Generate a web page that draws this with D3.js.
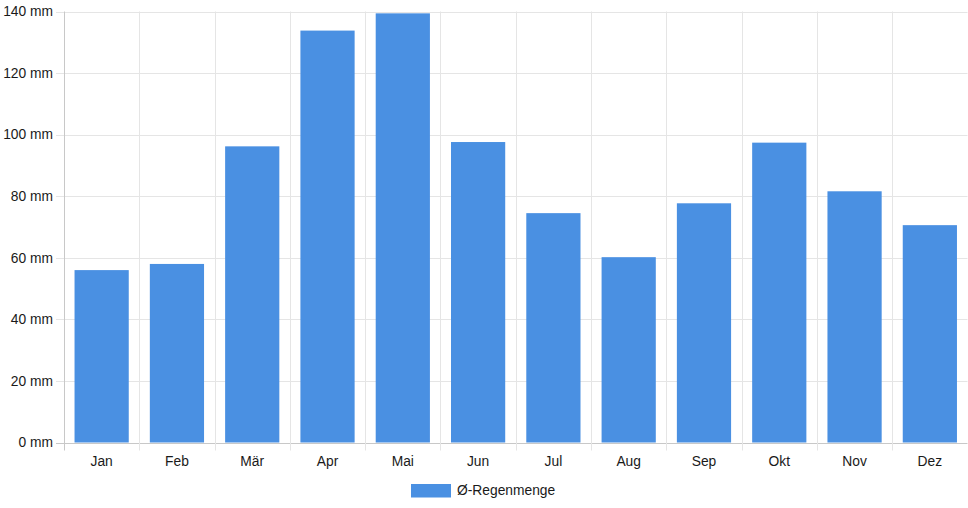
<!DOCTYPE html>
<html><head><meta charset="utf-8">
<script src="https://cdn.jsdelivr.net/npm/d3@7"></script>
<style>body{margin:0;background:#fff}svg{display:block;font-family:"Liberation Sans",Arial,sans-serif}</style>
</head><body><svg id="c" width="968" height="508"></svg>
<script>
const months = ["Jan","Feb","Mär","Apr","Mai","Jun","Jul","Aug","Sep","Okt","Nov","Dez"];
const rain = [56, 58, 96.2, 133.8, 139.4, 97.6, 74.5, 60.2, 77.7, 97.4, 81.6, 70.6];
const yTicks = [0, 20, 40, 60, 80, 100, 120, 140];
const seriesName = "Ø-Regenmenge";

(function () {
const svg = d3.select("#c");
const pL = 64, pR = 967.5, pT = 11.5, pB = 442.5;
const fs = 13.8;
const x = d3.scaleBand().domain(months).range([pL, pR]).paddingInner(0).paddingOuter(0);
const y = d3.scaleLinear().domain([0, 140]).range([pB, pT]);
const grid = "#e5e5e5";

svg.append("g").selectAll("line").data(yTicks).join("line")
  .attr("x1", pL - 8).attr("x2", pR)
  .attr("y1", d => Math.round(y(d)) + 0.5).attr("y2", d => Math.round(y(d)) + 0.5)
  .attr("stroke", d => d === 0 ? "#c8c8c8" : grid).attr("stroke-width", 1);

const vx = months.map(m => x(m)).concat([pR]);
svg.append("g").selectAll("line").data(vx).join("line")
  .attr("x1", d => Math.round(d) + 0.5).attr("x2", d => Math.round(d) + 0.5)
  .attr("y1", pT).attr("y2", pB + 8)
  .attr("stroke", (d, i) => i === 0 ? "#c8c8c8" : grid).attr("stroke-width", 1);

svg.append("g").selectAll("text").data(yTicks).join("text")
  .attr("x", pL - 11).attr("y", d => y(d)).attr("dy", "0.35em")
  .attr("text-anchor", "end").attr("font-size", fs).attr("fill", "#1a1a1a")
  .text(d => d + " mm");

svg.append("g").selectAll("text").data(months).join("text")
  .attr("x", d => x(d) + x.bandwidth() / 2).attr("y", 461).attr("dy", "0.35em")
  .attr("text-anchor", "middle").attr("font-size", fs).attr("fill", "#1a1a1a")
  .text(d => d);

const bw = x.bandwidth() * 0.72;
svg.append("g").selectAll("rect").data(rain).join("rect")
  .attr("x", (d, i) => x(months[i]) + (x.bandwidth() - bw) / 2)
  .attr("width", bw)
  .attr("y", d => y(d))
  .attr("height", d => pB - y(d))
  .attr("fill", "#4a90e2");

const lg = svg.append("g");
lg.append("rect").attr("x", 411).attr("y", 484).attr("width", 40).attr("height", 13.5).attr("fill", "#4a90e2");
lg.append("text").attr("x", 457).attr("y", 490.5).attr("dy", "0.35em")
  .attr("font-size", fs).attr("fill", "#1a1a1a").text(seriesName);
})();
</script></body></html>
